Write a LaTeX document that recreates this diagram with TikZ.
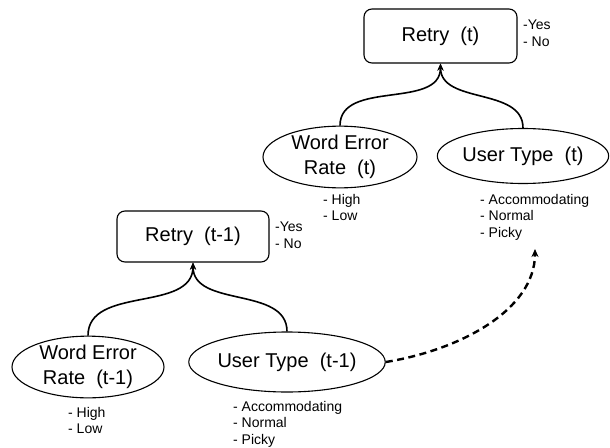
\documentclass[tikz,border=0pt]{standalone}
\usepackage{fontspec}
\setmainfont{Liberation Sans}
\usetikzlibrary{shapes.geometric,arrows.meta}
\begin{document}
\begin{tikzpicture}[x=1pt,y=-1pt,
  bigtext/.style={font=\fontsize{20}{25}\selectfont},
  smalltext/.style={font=\fontsize{14}{16.5}\selectfont,inner sep=0pt,anchor=north west,align=left},
  retrybox/.style={draw,line width=1.1pt,rounded corners=8pt,bigtext,inner sep=0pt},
  varnode/.style={draw,ellipse,line width=1.1pt,bigtext,inner sep=0pt,align=center},
  link/.style={line width=1.6pt,-{Stealth[length=7pt,width=6pt]}},
  temporal/.style={line width=2.4pt,dash pattern=on 7pt off 4.5pt,-{Stealth[length=8pt,width=7pt]}}
]
\useasboundingbox (0,0) rectangle (610,447);

% time t
\node[retrybox,minimum width=153pt,minimum height=54pt] (rt) at (440.5,36) {Retry~~(t)};
\node[smalltext] (rtv) at (523,20) {-Yes\\- No};
\node[varnode,minimum width=154pt,minimum height=57pt] (wt) at (340,157) {Word Error\\Rate~~(t)};
\node[smalltext] (wtv) at (323,194) {- High\\- Low};
\node[varnode,minimum width=140pt,minimum height=55pt] (ut) at (523,156) {User Type~~(t)};
\node[smalltext] (utv) at (480,194) {- Accommodating\\- Normal\\- Picky};

% time t-1
\node[retrybox,minimum width=152pt,minimum height=51pt] (rp) at (193,236.5) {Retry~~(t-1)};
\node[smalltext] (rpv) at (275,222) {-Yes\\- No};
\node[varnode,minimum width=152pt,minimum height=59pt] (wp) at (88,367) {Word Error\\Rate~~(t-1)};
\node[smalltext] (wpv) at (68,407) {- High\\- Low};
\node[varnode,minimum width=151pt,minimum height=60pt] (up) at (287,362) {User Type~~(t-1)};
\node[smalltext] (upv) at (233,401) {- Accommodating\\- Normal\\- Picky};

% connectors
\draw[link] (wt.north) to[out=90,in=-90] (rt.south);
\draw[link] (ut.north) to[out=90,in=-90] (rt.south);
\draw[link] (wp.north) to[out=90,in=-90] (rp.south);
\draw[link] (up.north) to[out=90,in=-90] (rp.south);
\coordinate (dtip) at (535,249);
\draw[temporal] (up.east) .. controls (460,350) and (535,310) .. (dtip);
\end{tikzpicture}
\end{document}
